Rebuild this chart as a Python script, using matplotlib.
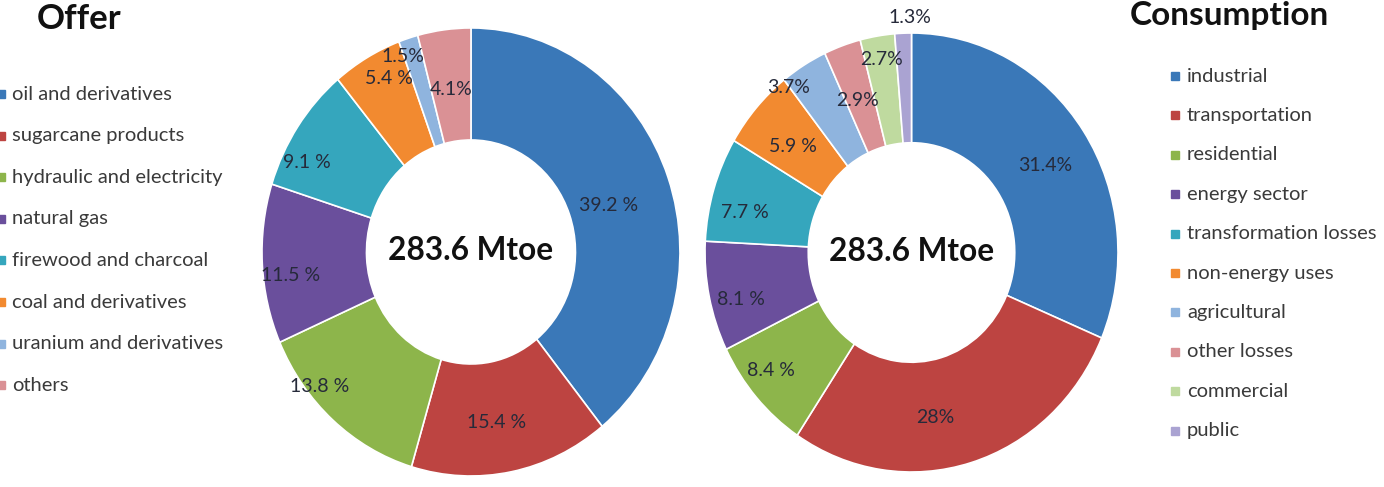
import matplotlib.pyplot as plt
import matplotlib.patches as mpatches
import numpy as np

plt.rcParams['font.family'] = ['Lato', 'DejaVu Sans']

# offer data
offer_labels = ['oil and derivatives', 'sugarcane products', 'hydraulic and electricity',
                'natural gas', 'firewood and charcoal', 'coal and derivatives',
                'uranium and derivatives', 'others']
offer_values = [39.2, 15.4, 13.8, 11.5, 9.1, 5.4, 1.5, 4.1]
offer_texts = ['39.2 %', '15.4 %', '13.8 %', '11.5 %', '9.1 %', '5.4 %', '1.5%', '4.1%']

# consumption data
cons_labels = ['industrial', 'transportation', 'residential', 'energy sector',
               'transformation losses', 'non-energy uses', 'agricultural',
               'other losses', 'commercial', 'public']
cons_values = [31.4, 28, 8.4, 8.1, 7.7, 5.9, 3.7, 2.9, 2.7, 1.3]
cons_texts = ['31.4%', '28%', '8.4 %', '8.1 %', '7.7 %', '5.9 %', '3.7%', '2.9%', '2.7%', '1.3%']

total = '283.6 Mtoe'

colors = ['#3a78b8', '#bd4441', '#8db54b', '#6a4f9c', '#35a6bd', '#f28a30',
          '#8fb4de', '#da9195', '#bfda9f', '#aaa3d2']

# label radius / angle nudge per slice (fraction of outer radius, degrees)
offer_lr = [0.69, 0.77, 0.94, 0.87, 0.88, 0.87, 0.93, 0.73]
offer_da = [-2, -2, -9, 4, 7, -3, 3, 0]
cons_lr = [0.76, 0.76, 0.87, 0.855, 0.83, 0.75, 0.96, 0.74, 0.89, 1.07]
cons_da = [-2, -8, -3, 3, 4, 1, 7, 1, 0, -2]

fig = plt.figure(figsize=(13.84, 4.87), dpi=100)


def donut(rect, values, texts, lr, da):
    ax = fig.add_axes(rect)
    ax.pie(values, colors=colors[:len(values)], startangle=90, counterclock=False,
           radius=1.0, wedgeprops=dict(width=0.5, edgecolor='white', linewidth=1.2))
    ax.set_aspect('auto')
    ax.set_xlim(-1, 1)
    ax.set_ylim(-1, 1)
    ax.axis('off')
    tot = sum(values)
    cum = 0
    for v, t, r, d in zip(values, texts, lr, da):
        mid = 90 - (cum + v / 2) / tot * 360 + d
        cum += v
        ang = np.deg2rad(mid)
        ax.text(r * np.cos(ang), r * np.sin(ang), t, ha='center', va='center',
                fontsize=14, color='#262a3a')
    ax.text(0, 0.005, total, ha='center', va='center', fontsize=22.8,
            fontweight='bold', color='#111111')
    return ax


donut([0.1893, 0.0226, 0.3020, 0.920], offer_values, offer_texts, offer_lr, offer_da)
donut([0.5094, 0.0308, 0.2984, 0.9014], cons_values, cons_texts, cons_lr, cons_da)

# titles
fig.text(37 / 1384, 1 - 29 / 487, 'Offer', fontsize=25, fontweight='bold',
         color='#111111', ha='left', va='baseline')
fig.text(1130 / 1384, 1 - 25 / 487, 'Consumption', fontsize=24, fontweight='bold',
         color='#111111', ha='left', va='baseline')


def legend(labels, x_box, x_text, y0, step):
    for i, lab in enumerate(labels):
        y = y0 + i * step
        fig.patches.append(mpatches.Rectangle(((x_box) / 1384, 1 - (y + 4) / 487),
                                              8 / 1384, 8 / 487,
                                              transform=fig.transFigure,
                                              color=colors[i]))
        fig.text(x_text / 1384, 1 - y / 487, lab, fontsize=14.5, color='#3a3a3a',
                 ha='left', va='center')


legend(offer_labels, -3, 12, 94, 41.6)
legend(cons_labels, 1171, 1187, 76, 39.4)

fig.savefig('out.png', dpi=100)
